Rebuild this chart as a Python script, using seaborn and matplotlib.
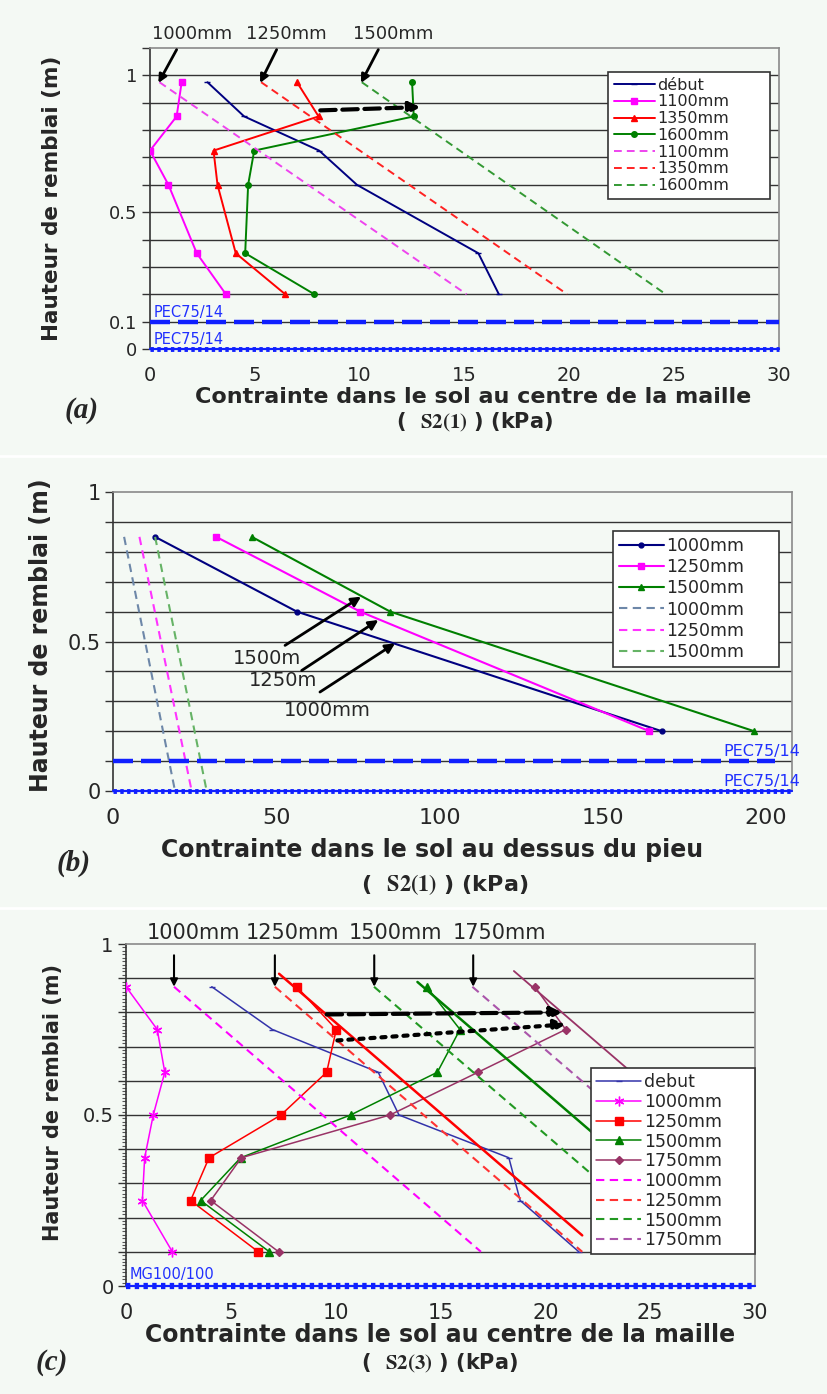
import numpy as np
import matplotlib
matplotlib.use("Agg")
import matplotlib.pyplot as plt
import seaborn as sns

# ---------------- data : panel (a) ----------------
a_levels = [0.975, 0.85, 0.725, 0.6, 0.35, 0.2]
a_debut = [2.74, 4.49, 8.07, 9.87, 15.66, 16.64]
a_1100 = [1.51, 1.27, 0.0, 0.88, 2.23, 3.62]
a_1350 = [7.01, 8.04, 3.03, 3.22, 4.09, 6.45]
a_1600 = [12.5, 12.58, 4.97, 4.68, 4.54, 7.84]
a_lin_levels = [0.975, 0.2]
a_lin_1100 = [0.45, 15.1]
a_lin_1350 = [5.3, 19.9]
a_lin_1600 = [10.1, 24.6]
a_legend = ["début", "1100mm", "1350mm", "1600mm", "1100mm", "1350mm", "1600mm"]
a_top_labels = ["1000mm", "1250mm", "1500mm"]
a_top_text_x = [1.99, 6.52, 11.6]
a_top_tail_x = [1.27, 6.04, 10.89]
a_top_head_x = [0.40, 5.25, 10.06]
a_shift_x = [8.12, 12.9]
a_shift_y = [0.872, 0.884]

# ---------------- data : panel (b) ----------------
b_levels = [0.85, 0.6, 0.2]
b_1000 = [12.9, 56.3, 168.1]
b_1250 = [31.6, 75.7, 164.3]
b_1500 = [42.5, 84.9, 196.4]
b_lin_levels = [0.85, 0.0]
b_lin_1000 = [3.4, 19.0]
b_lin_1250 = [8.1, 24.1]
b_lin_1500 = [12.9, 28.7]
b_legend = ["1000mm", "1250mm", "1500mm", "1000mm", "1250mm", "1500mm"]
b_arrow_labels = ["1500m", "1250m", "1000mm"]
b_text_xy = [(47.1, 0.442), (52.2, 0.37), (65.5, 0.27)]
b_tail_xy = [(52.7, 0.487), (57.8, 0.403), (63.4, 0.331)]
b_head_xy = [(76.0, 0.65), (81.3, 0.572), (86.4, 0.494)]

# ---------------- data : panel (c) ----------------
c_levels = [0.875, 0.75, 0.625, 0.5, 0.375, 0.25, 0.1]
c_debut = [4.09, 6.98, 12.03, 13.02, 18.26, 18.8, 21.6]
c_1000 = [0.0, 1.49, 1.85, 1.30, 0.89, 0.78, 2.21]
c_1250 = [8.14, 10.03, 9.57, 7.39, 3.96, 3.08, 6.31]
c_1500 = [14.34, 15.93, 14.85, 10.71, 5.47, 3.56, 6.84]
c_1750 = [19.5, 20.97, 16.79, 12.59, 5.5, 4.04, 7.28]
c_lin_levels = [0.875, 0.1]
c_lin_1000 = [2.29, 16.93]
c_lin_1250 = [7.1, 21.76]
c_lin_1500 = [11.83, 26.5]
c_lin_1750 = [16.52, 31.2]
c_fit_1250_y = [0.913, 0.148]
c_fit_1250_x = [7.3, 21.76]
c_fit_1500_y = [0.889, 0.15]
c_fit_1500_x = [13.9, 27.9]
c_fit_1750_y = [0.921, 0.15]
c_fit_1750_x = [18.5, 33.1]
c_legend = ["debut", "1000mm", "1250mm", "1500mm", "1750mm",
            "1000mm", "1250mm", "1500mm", "1750mm"]
c_top_labels = ["1000mm", "1250mm", "1500mm", "1750mm"]
c_top_text_x = [3.24, 7.93, 12.86, 17.79]
c_top_arrow_x = [2.29, 7.1, 11.84, 16.56]
c_shift1_x = [9.57, 20.8]
c_shift1_y = [0.794, 0.8]
c_shift2_x = [10.08, 20.97]
c_shift2_y = [0.718, 0.765]

geo_levels = [0.1, 0.0]

# ---------------- style ----------------
sns.set_theme(style="white")
plt.rcParams["font.family"] = ["DejaVu Sans"]
plt.rcParams["mathtext.fontset"] = "stix"

W, H = 827, 1394
BG = "#f4f9f4"
fig = plt.figure(figsize=(W / 100, H / 100), dpi=100)
fig.patch.set_facecolor(BG)


def add_axes(l, t, r, b):
    return fig.add_axes([l / W, 1 - b / H, (r - l) / W, (b - t) / H])


def style_axes(ax, xlim, ytop, xticks, ylab, ytick_fs, xtick_fs, minor=False):
    ax.set_facecolor(BG)
    ax.set_xlim(*xlim)
    ax.set_ylim(0, ytop)
    ypos = np.round(np.arange(0, ytop + 0.001, 0.1), 2)
    ax.set_yticks(ypos)
    ax.set_yticklabels([ylab.get(round(v, 2), "") for v in ypos], fontsize=ytick_fs)
    ax.set_xticks(xticks)
    ax.set_xticklabels([str(v) for v in xticks], fontsize=xtick_fs)
    ax.grid(False)
    for v in ypos[1:]:
        if v < ytop - 1e-6:
            ax.axhline(v, color="#333333", lw=1.0, zorder=0.5)
    ax.tick_params(axis="y", left=True, direction="out", length=6, width=1,
                   color="#333333", pad=3)
    ax.tick_params(axis="x", bottom=False, pad=6)
    if minor:
        ax.set_yticks(np.arange(0, ytop, 0.01), minor=True)
        ax.tick_params(axis="y", which="minor", left=True, length=3, width=0.8,
                       color="#555555")
    ax.spines["left"].set_color("#333333")
    ax.spines["left"].set_linewidth(1.2)
    for s in ("top", "right", "bottom"):
        ax.spines[s].set_color("#8a8a8a")
        ax.spines[s].set_linewidth(1.2)


def profile(ax, x, y, color, lw, marker=None, ms=4, ls="-", label=None, z=3):
    kw = dict(color=color, linewidth=lw, linestyle=ls, zorder=z)
    if marker is not None:
        kw.update(marker=marker, markersize=ms, markeredgecolor=color,
                  markerfacecolor=color, markeredgewidth=1)
    sns.lineplot(x=x, y=y, sort=False, estimator=None, ax=ax, label=label,
                 legend=False, **kw)


def geo_lines(ax, dashed_xmax=1.0):
    ax.axhline(geo_levels[0], xmax=dashed_xmax, color="#1020ff", lw=3.2,
               linestyle=(0, (4.5, 1.8)), zorder=4, clip_on=False)


def geo_base(ax, lw_dot=3.5):
    ax.axhline(geo_levels[1], color="#1020ff", lw=1.6, zorder=4, clip_on=False)
    ax.axhline(geo_levels[1], color="#1020ff", lw=lw_dot,
               linestyle=(0, (0.7, 0.7)), zorder=4, clip_on=False)


def arrow(ax, tail, head, lw=2.0, ls="-", ms=14):
    ax.annotate("", xy=head, xytext=tail, annotation_clip=False,
                arrowprops=dict(arrowstyle="-|>", color="black", lw=lw,
                                linestyle=ls, mutation_scale=ms,
                                shrinkA=0, shrinkB=0))


def make_legend(ax, handles, labels, x0, width, ytop, fs, spacing, pad=0.35):
    leg = ax.legend(handles, labels, loc="upper left",
                    bbox_to_anchor=(x0, 0, width, ytop), mode="expand",
                    borderaxespad=0, fontsize=fs, labelspacing=spacing,
                    handlelength=2.6, handletextpad=0.15, borderpad=pad,
                    frameon=True, fancybox=False, edgecolor="#333333",
                    facecolor="white", framealpha=1)
    leg.get_frame().set_linewidth(1.2)
    leg.set_zorder(10)
    return leg


DASH = (0, (4, 2.6))

# ================= panel (a) =================
axA = add_axes(150, 48, 779, 349)
style_axes(axA, (0, 30), 1.1, [0, 5, 10, 15, 20, 25, 30],
           {0.0: "0", 0.1: "0.1", 0.5: "0.5", 1.0: "1"}, 13, 14)
profile(axA, a_debut, a_levels, "#000080", 1.4, "_", 5)
profile(axA, a_1100, a_levels, "#ff00ff", 1.4, "s", 4)
profile(axA, a_1350, a_levels, "#ff0000", 1.4, "^", 5)
profile(axA, a_1600, a_levels, "#008000", 1.4, "o", 4)
profile(axA, a_lin_1100, a_lin_levels, "#ee44ee", 1.4, ls=DASH)
profile(axA, a_lin_1350, a_lin_levels, "#ff2222", 1.4, ls=DASH)
profile(axA, a_lin_1600, a_lin_levels, "#339933", 1.4, ls=DASH)
hA = [l for l in axA.get_lines() if l.get_linewidth() == 1.4]
make_legend(axA, hA, a_legend, 0.728, 0.258, 0.92, 11.5, 0.11)
geo_lines(axA)
geo_base(axA)
axA.text(0.15, 0.107, "PEC75/14", color="#2030ff", fontsize=10.5,
         family=["Liberation Sans Narrow", "DejaVu Sans"], va="bottom", zorder=6)
axA.text(0.15, 0.007, "PEC75/14", color="#2030ff", fontsize=10.5,
         family=["Liberation Sans Narrow", "DejaVu Sans"], va="bottom", zorder=6)
for lab, tx, tl, hd in zip(a_top_labels, a_top_text_x, a_top_tail_x, a_top_head_x):
    axA.text(tx, 1.152, lab, fontsize=13, ha="center", va="center", clip_on=False)
    arrow(axA, (tl, 1.094), (hd, 0.972), lw=2.0, ms=12)
arrow(axA, (a_shift_x[0], a_shift_y[0]), (a_shift_x[1], a_shift_y[1]),
      lw=3.0, ls="--", ms=16)
axA.set_ylabel("Hauteur de remblai (m)", fontsize=15.5, fontweight="bold")
axA.yaxis.set_label_coords(-0.14, 0.5)

# ================= panel (b) =================
axB = add_axes(113, 492, 792, 791)
style_axes(axB, (0, 208), 1.0, [0, 50, 100, 150, 200],
           {0.0: "0", 0.5: "0.5", 1.0: "1"}, 15, 16)
profile(axB, b_1000, b_levels, "#000080", 1.5, "o", 3.5)
profile(axB, b_1250, b_levels, "#ff00ff", 1.5, "s", 4.5)
profile(axB, b_1500, b_levels, "#008000", 1.5, "^", 5)
profile(axB, b_lin_1000, b_lin_levels, "#6d87a8", 1.5, ls=DASH)
profile(axB, b_lin_1250, b_lin_levels, "#ff33ff", 1.5, ls=DASH)
profile(axB, b_lin_1500, b_lin_levels, "#66b366", 1.5, ls=DASH)
hB = [l for l in axB.get_lines() if l.get_linewidth() == 1.5]
make_legend(axB, hB, b_legend, 0.736, 0.245, 0.871, 12.5, 0.19)
geo_lines(axB, dashed_xmax=0.975)
geo_base(axB)
axB.text(1.012, 0.108, "PEC75/14", color="#2030ff", fontsize=11.5,
         family=["Liberation Sans Narrow", "DejaVu Sans"], ha="right", va="bottom",
         transform=axB.get_yaxis_transform(), zorder=6)
axB.text(1.012, 0.006, "PEC75/14", color="#2030ff", fontsize=11.5,
         family=["Liberation Sans Narrow", "DejaVu Sans"], ha="right", va="bottom",
         transform=axB.get_yaxis_transform(), zorder=6)
for lab, txy, tl, hd in zip(b_arrow_labels, b_text_xy, b_tail_xy, b_head_xy):
    axB.text(txy[0], txy[1], lab, fontsize=14, ha="center", va="center", zorder=6)
    arrow(axB, tl, hd, lw=2.0, ms=14)
axB.set_ylabel("Hauteur de remblai (m)", fontsize=17, fontweight="bold")
axB.yaxis.set_label_coords(-0.088, 0.522)

# ================= panel (c) =================
axC = add_axes(126, 944, 755, 1286)
style_axes(axC, (0, 30), 1.0, [0, 5, 10, 15, 20, 25, 30],
           {0.0: "0", 0.5: "0.5", 1.0: "1"}, 14, 15, minor=True)
profile(axC, c_debut, c_levels, "#3333aa", 1.1, "_", 4)
profile(axC, c_1000, c_levels, "#ff00ff", 1.1, (6, 2, 0), 7)
profile(axC, c_1250, c_levels, "#ff0000", 1.1, "s", 5.5)
profile(axC, c_1500, c_levels, "#008000", 1.1, "^", 6)
profile(axC, c_1750, c_levels, "#993366", 1.1, "D", 4.5)
profile(axC, c_lin_1000, c_lin_levels, "#ff00ff", 1.5, ls=DASH)
profile(axC, c_lin_1250, c_lin_levels, "#ff3333", 1.5, ls=DASH)
profile(axC, c_lin_1500, c_lin_levels, "#229922", 1.5, ls=DASH)
profile(axC, c_lin_1750, c_lin_levels, "#aa55aa", 1.5, ls=DASH)
hC = [l for l in axC.get_lines() if l.get_linewidth() in (1.1, 1.5)]
profile(axC, c_fit_1250_x, c_fit_1250_y, "#ff0000", 1.8)
profile(axC, c_fit_1500_x, c_fit_1500_y, "#008000", 1.8)
profile(axC, c_fit_1750_x, c_fit_1750_y, "#993366", 1.3)
make_legend(axC, hC, c_legend, 0.739, 0.261, 0.637, 12.5, 0.1, pad=0.3)
geo_base(axC, lw_dot=4.5)
axC.text(0.15, 0.012, "MG100/100", color="#2030ff", fontsize=10.5,
         family=["Liberation Sans Narrow", "DejaVu Sans"], va="bottom", zorder=6)
for lab, tx, axx in zip(c_top_labels, c_top_text_x, c_top_arrow_x):
    axC.text(tx, 1.031, lab, fontsize=15, ha="center", va="center", clip_on=False)
    arrow(axC, (axx, 0.967), (axx, 0.875), lw=1.5, ms=11)
arrow(axC, (c_shift1_x[0], c_shift1_y[0]), (c_shift1_x[1], c_shift1_y[1]),
      lw=3.0, ls="--", ms=16)
arrow(axC, (c_shift2_x[0], c_shift2_y[0]), (c_shift2_x[1], c_shift2_y[1]),
      lw=3.0, ls=":", ms=16)
axC.set_ylabel("Hauteur de remblai (m)", fontsize=15, fontweight="bold")
axC.yaxis.set_label_coords(-0.1, 0.538)

# ---------------- x labels and panel letters ----------------
def fig_text(x, y, s, **kw):
    fig.text(x / W, 1 - y / H, s, ha="center", va="center", **kw)


fig_text(473, 397, "Contrainte dans le sol au centre de la maille",
         fontsize=16, fontweight="bold")
fig_text(475, 422, r"(  $\mathbf{S2(1)}$ ) (kPa)", fontsize=15, fontweight="bold")
fig_text(432, 850, "Contrainte dans le sol au dessus du pieu",
         fontsize=17, fontweight="bold")
fig_text(445, 885, r"(  $\mathbf{S2(1)}$ ) (kPa)", fontsize=16, fontweight="bold")
fig_text(440, 1335, "Contrainte dans le sol au centre de la maille",
         fontsize=17, fontweight="bold")
fig_text(440, 1363, r"(  $\mathbf{S2(3)}$ ) (kPa)", fontsize=15, fontweight="bold")

letter_kw = dict(fontsize=21, fontweight="bold", fontstyle="italic",
                 family=["Liberation Serif", "DejaVu Serif"])
fig_text(82, 410, "(a)", **letter_kw)
fig_text(74, 863, "(b)", **letter_kw)
fig_text(52, 1363, "(c)", **letter_kw)

for yy in (456, 908):
    fig.add_artist(plt.Line2D([0, 1], [1 - yy / H] * 2, color="white", lw=2,
                              transform=fig.transFigure))

fig.savefig("out.png", dpi=100, facecolor=fig.get_facecolor())
